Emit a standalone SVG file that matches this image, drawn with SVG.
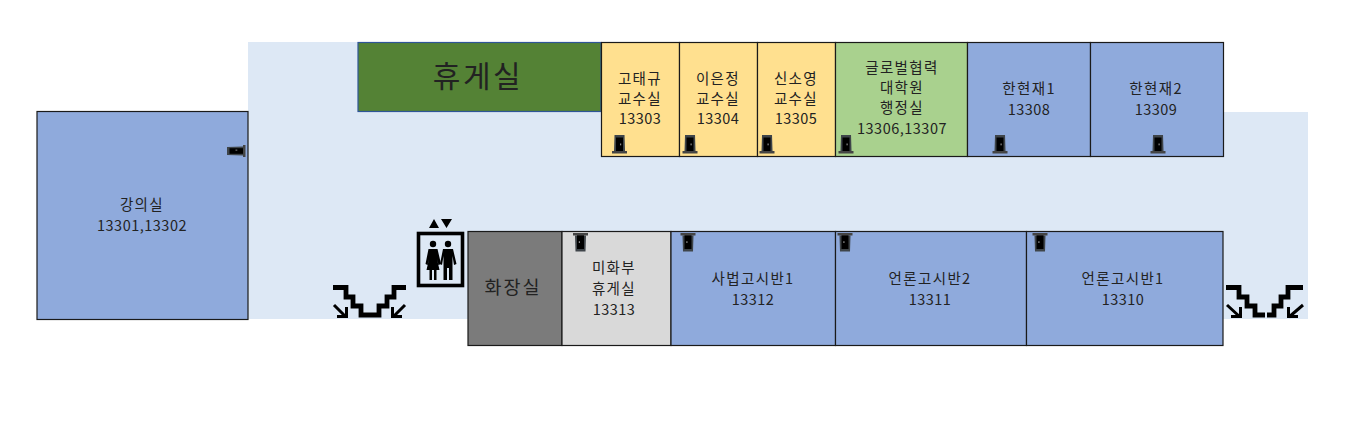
<svg xmlns="http://www.w3.org/2000/svg" width="1351" height="427" viewBox="0 0 1351 427">
<style>
.r{stroke:#1a1a1a;stroke-width:1.2}
.b{fill:#8faadc}.y{fill:#ffe08f}.g{fill:#a9d18e}
text{font-family:"Noto Sans CJK KR","Noto Sans",sans-serif;font-size:14.500px;letter-spacing:1.400px;fill:#222;text-anchor:middle}
text.n{font-size:14.500px;letter-spacing:0.500px}
.s{fill:none;stroke:#000;stroke-width:4.800}
.a{fill:none;stroke:#000;stroke-width:3}
</style>
<defs>
<g id="door"><path d="M-5.500 7L-5 -9H5L5.500 7Z" fill="#3f454a"/><rect x="-3.500" y="-6.500" width="7" height="14" fill="#000"/><rect x="-7.500" y="7" width="15" height="2.500" fill="#444"/><rect x="0.500" y="-0.500" width="1.200" height="1.800" fill="#8a8a8a"/></g>
<g id="stairs"><path class="s" d="M1 287.500H14V297H21V306H29V315H38"/><path class="s" d="M74 287.500H62V297H55V306H47V315H38"/><path class="a" d="M2 305L14 317M5 316.500H14.500V307"/><path class="a" d="M73 305L61 317M70 316.500H60.500V307"/></g>
<g id="stairs2"><path class="s" d="M1 287.500H14V297H22V306H30V315H40"/><path class="s" d="M78 287.500H63V297H56V306H49V315H42"/><path class="a" d="M2 305L15 317M6 316.500H15.500V307"/><path class="a" d="M78 305L64 317M73 316.500H63.500V307"/></g>
</defs>
<path id="floor" d="M248 42H601V112H1308V319H248Z" fill="#dde8f5"/>
<g id="connectors"></g>
<g id="room-13301"><rect class="r b" x="37" y="111.500" width="211" height="208"/><text x="142" y="210">강의실</text><text class="n" x="142" y="231">13301,13302</text><use href="#door" transform="translate(236 151) rotate(-90) scale(.8 1)"/></g>
<g id="lounge-top"><rect x="358" y="42.500" width="243" height="69" fill="#548235" stroke="#2f5597" stroke-width="1.200"/><text x="478" y="87" style="font-size:30px;letter-spacing:2.500px">휴게실</text></g>
<g id="room-13303"><rect class="r y" x="601.500" y="42.500" width="78" height="114"/><text x="640" y="84">고태규</text><text x="640" y="104">교수실</text><text class="n" x="640" y="124">13303</text><use href="#door" transform="translate(619.500 144)"/></g>
<g id="room-13304"><rect class="r y" x="679.500" y="42.500" width="78" height="114"/><text x="718" y="84">이은정</text><text x="718" y="104">교수실</text><text class="n" x="718" y="124">13304</text><use href="#door" transform="translate(690 144)"/></g>
<g id="room-13305"><rect class="r y" x="757.500" y="42.500" width="78" height="114"/><text x="796" y="84">신소영</text><text x="796" y="104">교수실</text><text class="n" x="796" y="124">13305</text><use href="#door" transform="translate(767 144)"/></g>
<g id="room-13306"><rect class="r g" x="835.500" y="42.500" width="132" height="114"/><text x="902" y="73">글로벌협력</text><text x="902" y="93">대학원</text><text x="902" y="113">행정실</text><text class="n" x="902" y="134">13306,13307</text><use href="#door" transform="translate(846 144)"/></g>
<g id="room-13308"><rect class="r b" x="967.500" y="42.500" width="123" height="114"/><text x="1029" y="94">한현재1</text><text class="n" x="1029" y="115">13308</text><use href="#door" transform="translate(1000 144)"/></g>
<g id="room-13309"><rect class="r b" x="1090.500" y="42.500" width="133" height="114"/><text x="1156" y="94">한현재2</text><text class="n" x="1156" y="115">13309</text><use href="#door" transform="translate(1158 144)"/></g>
<g id="elevator"><path d="M429 228L434 219L439 228ZM441 219H452L446.500 228Z"/><rect x="418.500" y="233.500" width="44" height="52" fill="#dde8f5" stroke="#000" stroke-width="3.600"/>
<circle cx="433" cy="244" r="3.200"/><path d="M428.500 249H437.500L441 264L438.500 265L437 259L439.500 270H436.500V280H434V270H432V280H429.500V270H426.500L429 259L427.500 265L425.500 264Z"/>
<circle cx="448" cy="244" r="3.200"/><path d="M443 249H453L456.500 264L454 265L452.500 256V280H449V268H447V280H443.500V256L442 265L440 264Z"/></g>
<g id="restroom"><rect class="r" x="468" y="231.500" width="94" height="114" fill="#7b7b7b"/><text x="513" y="294" style="font-size:18.500px;letter-spacing:2px">화장실</text></g>
<g id="room-13313"><rect class="r" x="562" y="231.500" width="109" height="114" fill="#d9d9d9"/><text x="614" y="273">미화부</text><text x="614" y="294">휴게실</text><text class="n" x="614" y="315">13313</text><use href="#door" transform="translate(580.500 242.500) rotate(180)"/></g>
<g id="room-13312"><rect class="r b" x="671" y="231.500" width="164.500" height="114"/><text x="753" y="284">사법고시반1</text><text class="n" x="753" y="305">13312</text><use href="#door" transform="translate(688 242.500) rotate(180)"/></g>
<g id="room-13311"><rect class="r b" x="835.500" y="231.500" width="191" height="114"/><text x="930" y="284">언론고시반2</text><text class="n" x="930" y="305">13311</text><use href="#door" transform="translate(845 242.500) rotate(180)"/></g>
<g id="room-13310"><rect class="r b" x="1026.500" y="231.500" width="196.500" height="114"/><text x="1123" y="284">언론고시반1</text><text class="n" x="1123" y="305">13310</text><use href="#door" transform="translate(1040 242.500) rotate(180)"/></g>
<use id="stairs-left" href="#stairs" transform="translate(332 0)"/>
<use id="stairs-right" href="#stairs2" transform="translate(1225 0)"/>
</svg>
